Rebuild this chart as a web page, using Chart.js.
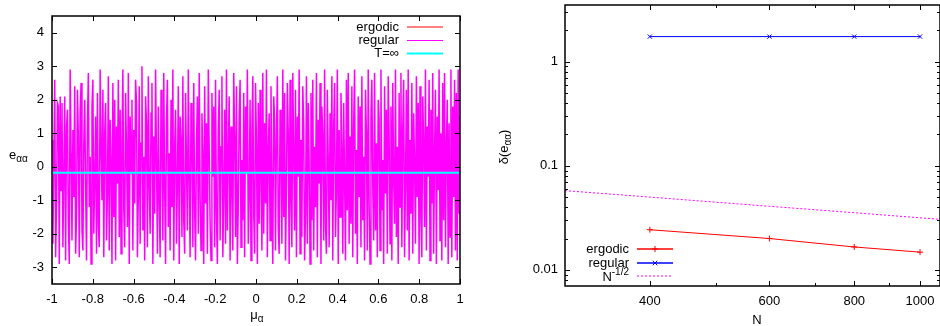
<!DOCTYPE html>
<html>
<head>
<meta charset="utf-8">
<script src="https://cdn.jsdelivr.net/npm/chart.js@4.4.0/dist/chart.umd.min.js"></script>
<style>
  body { margin: 0; background: #fff; }
  canvas { position: absolute; top: 0; }
  #left { left: 0; }
  #right { left: 470px; }
</style>
</head>
<body>
<canvas id="left" width="470" height="326"></canvas>
<canvas id="right" width="470" height="326"></canvas>
<script>
// left panel: e_aa against mu_a (regular case swings, ergodic sits on T=inf)
const regularE = [
  0.8, -2.3, 0.2, 2.6, -2.7, -1.1, 1.9, 1.8, -2.9, 2.1,
  -0.7, 1.9, -2.4, -0.3, 2.1, -2.8, 1.2, 1.7, -1.6, -2.9,
  2.9, 0.4, -2.2, 1.1, -0.9, 2.4, -2.6, -1.4, 2.3, 0.9,
  -2.7, 1.6, 2.5, -1.9, -2.5, 0.7, 2.0, -0.6, -2.8, 1.3,
  2.8, -1.2, 0.3, -2.9, 1.8, 2.6, -2.0, -0.4, 1.5, -2.6,
  2.2, -1.7, -2.4, 2.9, 0.6, -1.0, 2.3, -2.7, 1.0, 1.9,
  -2.2, -0.8, 2.7, -2.5, 1.4, 0.1, -2.9, 2.5, -1.5, 2.0,
  -2.8, 1.2, -0.5, 2.6, -2.1, 1.7, -2.6, 0.8, 2.9, -1.3,
  -2.4, 2.2, 0.5, -1.8, 2.8, -2.9, 1.5, -0.2, 2.0, -2.5,
  1.1, -1.1, 2.6, 1.9, -2.7, -0.9, 2.4, -2.3, 0.7, 3.0,
  -1.9, 0.3, -2.8, 2.1, 1.3, -2.4, 2.7, -0.6, -2.0, 1.6,
  2.5, -2.9, 0.9, -1.4, 2.9, 0.2, -2.6, 1.8, -1.0, -2.7,
  2.3, 1.0, -2.2, 2.8, -0.7, -2.9, 1.4, 2.6, -1.8, 0.4,
  -2.5, 2.0, -1.2, 2.9, -2.8, 0.6, 1.7, -2.3, -0.5, 2.4,
  -2.9, 1.5, 0.8, -2.1, 2.7, -1.6, -2.6, 2.2, 0.1, -1.9,
  2.9, -0.4, -2.7, 1.9, 1.1, -2.4, 2.5, -1.3, -2.8, 0.7,
  2.1, -2.0, 2.8, -0.9, -2.5, 1.6, 0.3, -2.9, 2.4, -1.1,
  1.3, -2.6, 2.9, 0.5, -1.7, -2.8, 2.2, -0.3, 1.8, -2.4,
  2.6, -1.5, -2.9, 1.0, 2.3, -2.2, 0.6, 2.7, -2.7, -0.8,
  1.7, -2.3, 2.9, -1.9, 0.4, 2.1, -2.8, 1.2, -0.6, -2.5,
  2.8, 0.9, -2.1, 2.4, -2.9, -1.2, 1.5, 2.6, -2.4, 0.2,
  -1.6, 2.2, -2.7, 1.8, -0.2, 2.9, -2.3, -0.9, 2.0, -2.8,
  1.1, 2.7, -1.4, -2.6, 2.5, 0.7, -2.9, 1.9, -1.7, 2.3,
  -0.4, -2.5, 2.8, -2.0, 1.3, -1.1, 2.9, -2.7, 0.5, 1.6,
  -2.2, 2.4, -0.8, -2.9, 2.1, 1.4, -2.5, 0.9, 2.7, -1.8,
  -2.6, 1.7, 0.3, -2.3, 2.9, -1.5, 2.2, -2.8, -0.6, 2.5,
  1.0, -2.9, 2.6, -1.0, -2.4, 2.8, 0.4, -1.9, 2.3, -2.7,
  1.5, -0.3, 2.9, -2.6, 0.8, -2.1, 2.4, 1.2, -2.8, -1.4,
  2.7, -2.3, 1.9, 0.1, -2.9, 2.2, -1.6, 2.6, -2.5, 0.6,
  -1.2, 2.8, -2.7, 1.4, -0.5, 2.5, -2.9, 1.8, 0.9, -2.2,
  2.9, -1.8, -2.6, 2.3, 0.2, -2.4, 1.6, -1.0, 2.7, -2.8,
  1.2, 2.5, -2.1, -0.7, 2.9, -2.9, 1.1, -1.5, 2.2, 0.6,
  -2.6, 1.9, -0.4, -2.8, 2.6, -1.3, 2.8, -2.3, 0.9, -1.7,
  2.4, -2.7, 1.3, 2.9, -2.0, 0.5, -2.9, 2.1, -0.9, 1.8,
  -2.4, 2.7, -1.6, 0.3, -2.8, 2.3, 1.0, -2.5, 2.9, -1.1,
  -2.9, 1.5, 2.6, -0.6, -2.2, 2.8, -1.9, 0.7, -2.7, 2.0,
  1.4, -2.5, 2.9, -1.3, 0.2, -2.9, 2.4, -0.8, 1.7, -2.6,
  2.7, 0.9, -2.3, 1.8, -2.8, 2.5, -0.4, -1.7, 2.9, -2.1,
  0.6, -2.9, 2.2, -1.2, 2.8, -2.4, 1.1, 2.6, -2.7, -0.5,
  2.3, -1.9, 2.9, -2.8, 0.8, -1.4, 2.5, -2.6, 1.6, 0.1,
  -2.3, 2.7, -0.9, 1.9, -2.9, 2.4, -1.5, -2.7, 2.1, 0.7,
  -1.8, 2.9, -2.5, 1.2, -0.3, 2.6, -2.8, 1.7, -1.1, 2.8,
  -2.6, 0.4, 2.3, -2.9, 1.5, -0.7, 2.9, -2.2, 1.0, -2.8,
  2.5, -1.6, 2.8, -2.4, 0.6, 2.0, -2.9, 1.3, -2.1, 2.9,
  -2.7, 1.8, -0.9, 2.6, -2.5, 2.2, -2.8, 2.9, -1.4, 1.5
];
const ergodicE = [
  -0.17, -0.19, -0.18, -0.16, -0.20, -0.18, -0.17, -0.19, -0.18, -0.16,
  -0.19, -0.18, -0.20, -0.17, -0.18, -0.19, -0.16, -0.18, -0.20, -0.17,
  -0.18, -0.19, -0.17, -0.18, -0.16, -0.20, -0.18, -0.17, -0.19, -0.18,
  -0.21, -0.17, -0.18, -0.16, -0.19, -0.18, -0.20, -0.17, -0.18, -0.19, -0.18
];
const tInfinity = -0.18;
const muTicks = [-1, -0.8, -0.6, -0.4, -0.2, 0, 0.2, 0.4, 0.6, 0.8, 1];
const eTicks = [-3, -2, -1, 0, 1, 2, 3, 4];

// right panel: fluctuation delta(e_aa) against system size N
const sizes = [400, 600, 800, 1000];
const deltaErgodic = [0.0243, 0.0200, 0.0166, 0.0148];
const deltaRegular = [1.74, 1.74, 1.74, 1.74];
const refN = [300, 400, 600, 800, 1000, 1070];
const refDelta = [0.0577, 0.0500, 0.0408, 0.0354, 0.0316, 0.0306];
const nTicks = [400, 500, 600, 700, 800, 900, 1000];
const nLabels = [400, 600, 800, 1000];
const deltaTicks = [0.008, 0.009, 0.01, 0.02, 0.03, 0.04, 0.05, 0.06, 0.07, 0.08, 0.09,
  0.1, 0.2, 0.3, 0.4, 0.5, 0.6, 0.7, 0.8, 0.9, 1, 2, 3];
const deltaLabels = [0.01, 0.1, 1];

const FONT = '"Liberation Sans", Arial, sans-serif';
Chart.defaults.font.family = FONT;
Chart.defaults.font.size = 13;
Chart.defaults.color = '#000';

// draw a run of text pieces [text, size, dy] (for sub/superscripts)
function drawParts(ctx, parts, x, y, align) {
    let w = 0;
    parts.forEach(p => { ctx.font = p[1] + 'px ' + FONT; w += ctx.measureText(p[0]).width; });
    let cx = align === 'right' ? x - w : align === 'center' ? x - w / 2 : x;
    parts.forEach(p => {
        ctx.font = p[1] + 'px ' + FONT;
        ctx.fillText(p[0], cx, y + (p[2] || 0));
        cx += ctx.measureText(p[0]).width;
    });
}

function drawMarker(ctx, style, x, y, r) {
    ctx.beginPath();
    if (style === 'cross') {
        ctx.moveTo(x - r, y); ctx.lineTo(x + r, y);
        ctx.moveTo(x, y - r); ctx.lineTo(x, y + r);
    } else if (style === 'crossRot') {
        const d = r * 0.75;
        ctx.moveTo(x - d, y - d); ctx.lineTo(x + d, y + d);
        ctx.moveTo(x - d, y + d); ctx.lineTo(x + d, y - d);
    }
    ctx.stroke();
}

// gnuplot style box with inward, mirrored ticks
function makeFrame(isMinor) {
    return {
        id: 'frame',
        afterDraw(chart) {
            const ctx = chart.ctx;
            const a = chart.chartArea;
            ctx.save();
            ctx.strokeStyle = '#000';
            ctx.lineWidth = 1;
            ['x', 'y'].forEach(id => {
                const s = chart.scales[id];
                s.ticks.forEach(t => {
                    const len = isMinor(id, t.value) ? 3 : 5;
                    const p = Math.round(s.getPixelForValue(t.value)) + 0.5;
                    ctx.beginPath();
                    if (id === 'x') {
                        ctx.moveTo(p, a.bottom); ctx.lineTo(p, a.bottom - len);
                        ctx.moveTo(p, a.top); ctx.lineTo(p, a.top + len);
                    } else {
                        ctx.moveTo(a.left, p); ctx.lineTo(a.left + len, p);
                        ctx.moveTo(a.right, p); ctx.lineTo(a.right - len, p);
                    }
                    ctx.stroke();
                });
            });
            ctx.lineWidth = 1.5;
            ctx.strokeRect(a.left, a.top, a.right - a.left, a.bottom - a.top);
            ctx.restore();
        }
    };
}

// key with the text on the left and the sample line on the right
function makeKey(entries, textRight, lineX0, lineX1) {
    return {
        id: 'key',
        afterDraw(chart) {
            const ctx = chart.ctx;
            ctx.save();
            ctx.fillStyle = '#000';
            ctx.textBaseline = 'middle';
            entries.forEach(e => {
                drawParts(ctx, e.parts, textRight, e.y, 'right');
                ctx.strokeStyle = e.color;
                ctx.lineWidth = e.width;
                ctx.setLineDash(e.dash || []);
                ctx.beginPath();
                ctx.moveTo(lineX0, e.y); ctx.lineTo(lineX1, e.y);
                ctx.stroke();
                ctx.setLineDash([]);
                if (e.point) {
                    ctx.lineWidth = 1;
                    drawMarker(ctx, e.point, (lineX0 + lineX1) / 2, e.y, 3);
                }
            });
            ctx.restore();
        }
    };
}

function makeTitles(draw) {
    return { id: 'titles', afterDraw(chart) { const ctx = chart.ctx; ctx.save(); ctx.fillStyle = '#000'; draw(ctx); ctx.restore(); } };
}

// fix axis box sizes so the plot frame lands where the reference has it
function fixSize(key, size) {
    return s => {
        s[key] = size;
        s.paddingTop = 0; s.paddingBottom = 0; s.paddingLeft = 0; s.paddingRight = 0;
    };
}

function spread(values) {
    return values.map((v, i) => ({ x: -1 + 2 * i / (values.length - 1), y: v }));
}

function initLeft() {
    new Chart(document.getElementById('left'), {
        type: 'line',
        data: {
            datasets: [{
                label: 'ergodic',
                data: spread(ergodicE),
                borderColor: '#ff0000',
                borderWidth: 1,
                order: 2
            }, {
                label: 'regular',
                data: spread(regularE),
                borderColor: '#ff00ff',
                borderWidth: 1.5,
                order: 1
            }, {
                label: 'T=∞',
                data: [{ x: -1, y: tInfinity }, { x: 1, y: tInfinity }],
                borderColor: '#00ffff',
                borderWidth: 2,
                order: 0
            }]
        },
        options: {
            responsive: false,
            animation: false,
            devicePixelRatio: 1,
            layout: { autoPadding: false, padding: { top: 16, right: 10, left: 0, bottom: 0 } },
            elements: { point: { radius: 0 }, line: { tension: 0 } },
            plugins: { legend: { display: false }, tooltip: { enabled: false } },
            scales: {
                x: {
                    type: 'linear', min: -1, max: 1,
                    grid: { display: false, drawTicks: false },
                    border: { display: false },
                    afterBuildTicks: s => { s.ticks = muTicks.map(v => ({ value: v })); },
                    afterFit: fixSize('height', 42),
                    ticks: { padding: 8, autoSkip: false, maxRotation: 0, callback: v => String(v) }
                },
                y: {
                    type: 'linear', min: -3.5, max: 4.5,
                    grid: { display: false, drawTicks: false },
                    border: { display: false },
                    afterBuildTicks: s => { s.ticks = eTicks.map(v => ({ value: v })); },
                    afterFit: fixSize('width', 52),
                    ticks: { padding: 8, callback: v => String(v) }
                }
            }
        },
        plugins: [
            makeFrame(() => false),
            makeKey([
                { parts: [['ergodic', 13]], y: 27, color: '#ff0000', width: 1 },
                { parts: [['regular', 13]], y: 40.5, color: '#ff00ff', width: 1 },
                { parts: [['T=∞', 13]], y: 53.5, color: '#00ffff', width: 2 }
            ], 399, 407, 443),
            makeTitles(ctx => {
                ctx.textBaseline = 'alphabetic';
                drawParts(ctx, [['e', 13], ['αα', 10, 3]], 9, 159, 'left');
                drawParts(ctx, [['μ', 13], ['α', 10, 3]], 257, 319, 'center');
            })
        ]
    });
}

function initRight() {
    new Chart(document.getElementById('right'), {
        type: 'line',
        data: {
            datasets: [{
                label: 'ergodic',
                data: sizes.map((n, i) => ({ x: n, y: deltaErgodic[i] })),
                borderColor: '#ff0000',
                borderWidth: 1,
                pointStyle: 'cross',
                pointRadius: 3,
                pointBorderWidth: 1
            }, {
                label: 'regular',
                data: sizes.map((n, i) => ({ x: n, y: deltaRegular[i] })),
                borderColor: '#0000ff',
                borderWidth: 1,
                pointStyle: 'crossRot',
                pointRadius: 3,
                pointBorderWidth: 1
            }, {
                label: 'N^-1/2',
                data: refN.map((n, i) => ({ x: n, y: refDelta[i] })),
                borderColor: '#ff00ff',
                borderWidth: 1,
                borderDash: [2, 2],
                pointRadius: 0
            }]
        },
        options: {
            responsive: false,
            animation: false,
            devicePixelRatio: 1,
            layout: { autoPadding: false, padding: { top: 5, right: 0, left: 0, bottom: 0 } },
            elements: { line: { tension: 0 } },
            plugins: { legend: { display: false }, tooltip: { enabled: false } },
            scales: {
                x: {
                    type: 'logarithmic', min: 300, max: 1070,
                    grid: { display: false, drawTicks: false },
                    border: { display: false },
                    afterBuildTicks: s => { s.ticks = nTicks.map(v => ({ value: v })); },
                    afterFit: fixSize('height', 40),
                    ticks: { padding: 8, autoSkip: false, maxRotation: 0,
                        callback: v => nLabels.includes(v) ? String(v) : '' }
                },
                y: {
                    type: 'logarithmic', min: 0.007, max: 3.5,
                    grid: { display: false, drawTicks: false },
                    border: { display: false },
                    afterBuildTicks: s => { s.ticks = deltaTicks.map(v => ({ value: v })); },
                    afterFit: fixSize('width', 95),
                    ticks: { padding: 7, autoSkip: false,
                        callback: v => deltaLabels.includes(v) ? String(v) : '' }
                }
            }
        },
        plugins: [
            makeFrame((id, v) => id === 'x' ? !nLabels.includes(v) : !deltaLabels.includes(v)),
            makeKey([
                { parts: [['ergodic', 13]], y: 249, color: '#ff0000', width: 1.5, point: 'cross' },
                { parts: [['regular', 13]], y: 263, color: '#0000ff', width: 1.5, point: 'crossRot' },
                { parts: [['N', 13, 1], ['-1/2', 10, -4]], y: 276, color: '#ff00ff', width: 1, dash: [2, 2] }
            ], 159, 167, 203),
            makeTitles(ctx => {
                ctx.textBaseline = 'alphabetic';
                drawParts(ctx, [['N', 13]], 287, 324, 'center');
                ctx.translate(38, 147);
                ctx.rotate(-Math.PI / 2);
                drawParts(ctx, [['δ(e', 13], ['αα', 10, 3], [')', 13]], 0, 0, 'center');
            })
        ]
    });
}

initLeft();
initRight();
</script>
</body>
</html>
